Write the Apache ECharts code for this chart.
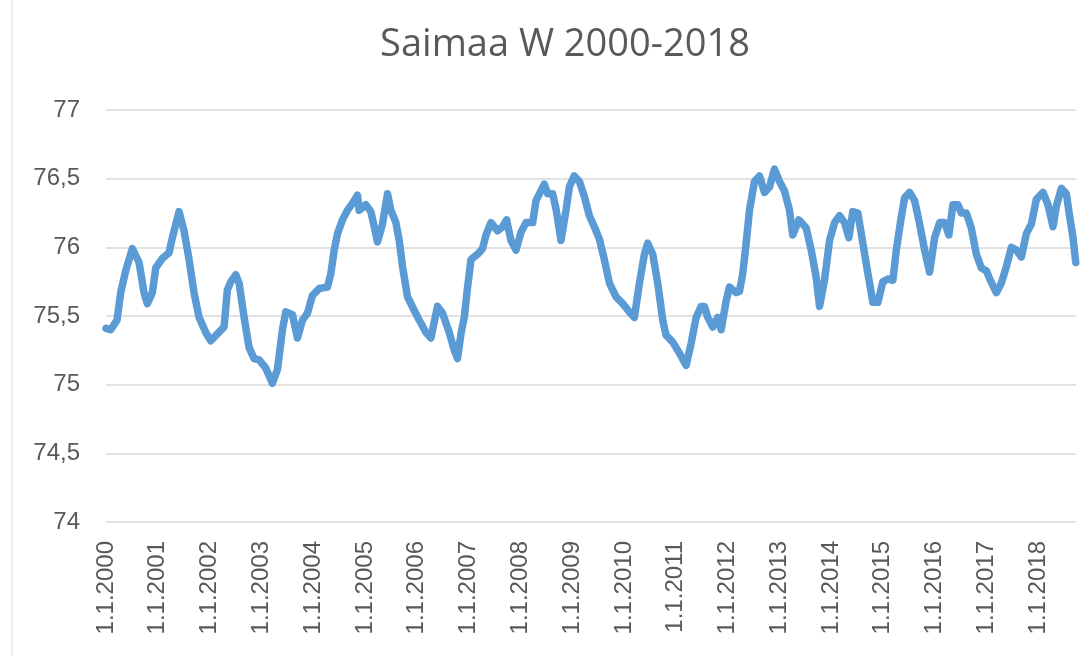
<!DOCTYPE html>
<html>
<head>
<meta charset="utf-8">
<script src="https://cdn.jsdelivr.net/npm/echarts@6/dist/echarts.min.js"></script>
<style>
html,body{margin:0;padding:0;background:#fff;}
#chart{width:1083px;height:656px;}
</style>
</head>
<body>
<div id="chart"></div>
<script>
// ajankohta (vuotta 2000 jälkeen) ja vedenkorkeus, luettu kuvasta
var t = [
0.000,0.091,0.213,0.284,0.381,0.508,0.638,0.734,0.798,0.895,0.960,1.088,1.217,1.281,1.411,1.507,1.604,1.700,1.797,1.927,
2.023,2.151,2.280,2.344,2.410,2.506,2.570,2.667,2.763,2.860,2.957,3.086,3.213,3.310,3.407,3.472,3.600,3.697,3.793,3.890,
3.986,4.116,4.276,4.342,4.406,4.470,4.566,4.663,4.759,4.856,4.889,5.018,5.115,5.179,5.243,5.339,5.436,5.501,5.598,5.662,
5.726,5.822,5.952,6.048,6.178,6.274,6.402,6.499,6.628,6.725,6.788,6.854,6.918,6.982,7.047,7.175,7.271,7.337,7.434,7.561,
7.658,7.735,7.820,7.917,8.013,8.110,8.238,8.303,8.464,8.528,8.624,8.690,8.786,8.883,8.947,9.043,9.140,9.237,9.333,9.430,
9.527,9.623,9.720,9.849,9.977,10.106,10.203,10.300,10.396,10.460,10.557,10.653,10.750,10.815,10.943,11.072,11.202,11.298,11.395,11.492,
11.556,11.619,11.716,11.812,11.878,11.975,12.039,12.168,12.232,12.296,12.361,12.425,12.522,12.618,12.715,12.812,12.908,13.005,13.101,13.198,
13.262,13.378,13.521,13.617,13.714,13.778,13.874,13.971,14.068,14.164,14.261,14.344,14.421,14.518,14.614,14.711,14.808,14.904,15.001,15.097,
15.194,15.260,15.356,15.420,15.517,15.614,15.710,15.807,15.903,16.000,16.097,16.193,16.276,16.353,16.450,16.516,16.612,16.709,16.806,16.902,
16.999,17.063,17.192,17.289,17.386,17.482,17.579,17.675,17.772,17.868,17.965,18.093,18.189,18.286,18.351,18.448,18.544,18.609,18.673,18.725
];
var level = [
75.41,75.40,75.47,75.67,75.83,75.99,75.89,75.67,75.59,75.67,75.85,75.92,75.96,76.07,76.26,76.12,75.91,75.67,75.49,75.38,
75.32,75.37,75.42,75.69,75.75,75.80,75.74,75.49,75.27,75.19,75.18,75.12,75.01,75.11,75.40,75.53,75.51,75.34,75.47,75.52,
75.65,75.70,75.71,75.81,75.98,76.10,76.20,76.27,76.32,76.38,76.27,76.31,76.26,76.15,76.04,76.17,76.39,76.27,76.18,76.05,
75.86,75.64,75.54,75.47,75.38,75.34,75.57,75.52,75.38,75.25,75.19,75.37,75.49,75.71,75.91,75.95,75.99,76.09,76.18,76.12,
76.15,76.20,76.05,75.98,76.11,76.18,76.18,76.34,76.46,76.39,76.39,76.28,76.05,76.27,76.44,76.52,76.48,76.37,76.23,76.15,
76.06,75.91,75.74,75.64,75.59,75.53,75.49,75.74,75.95,76.03,75.95,75.74,75.47,75.36,75.31,75.23,75.14,75.30,75.49,75.57,
75.57,75.49,75.42,75.49,75.40,75.61,75.71,75.67,75.68,75.81,76.03,76.27,76.48,76.52,76.40,76.44,76.57,76.48,76.41,76.27,
76.09,76.20,76.14,75.98,75.78,75.57,75.76,76.05,76.18,76.23,76.18,76.07,76.26,76.25,76.03,75.81,75.60,75.60,75.75,75.77,
75.76,75.98,76.22,76.36,76.40,76.34,76.17,75.98,75.82,76.07,76.18,76.18,76.09,76.31,76.31,76.25,76.25,76.14,75.95,75.85,
75.83,75.77,75.67,75.74,75.86,76.00,75.98,75.93,76.10,76.17,76.35,76.40,76.31,76.15,76.30,76.43,76.39,76.22,76.07,75.89
];
var startYear = 2000;
var endYear = 2018.73;

var myChart = echarts.init(document.getElementById('chart'));
var option = {
    animation: false,
    title: {
        text: 'Saimaa W 2000-2018',
        left: 560,
        textAlign: 'center',
        top: 21,
        textStyle: {
            fontFamily: 'Open Sans',
            fontSize: 38,
            fontWeight: 'normal',
            color: '#595959'
        }
    },
    graphic: [
        {
            type: 'line',
            shape: {x1: 12, y1: 0, x2: 12, y2: 656},
            style: {stroke: '#d9d9d9', lineWidth: 1}
        }
    ],
    grid: {
        left: 106,
        right: 7,
        top: 110,
        bottom: 134
    },
    xAxis: {
        type: 'value',
        min: startYear,
        max: endYear,
        interval: 1,
        axisLine: {show: false},
        axisTick: {show: false},
        splitLine: {show: false},
        axisLabel: {
            rotate: 90,
            margin: 19,
            showMaxLabel: false,
            fontFamily: 'Liberation Sans',
            fontSize: 24,
            color: '#595959',
            formatter: function (v) {
                return '1.1.' + v;
            }
        }
    },
    yAxis: {
        type: 'value',
        min: 74,
        max: 77,
        interval: 0.5,
        axisLine: {show: false},
        axisTick: {show: false},
        splitLine: {
            lineStyle: {color: '#d9d9d9', width: 1.5}
        },
        axisLabel: {
            margin: 26,
            fontFamily: 'Liberation Sans',
            fontSize: 24,
            color: '#595959',
            formatter: function (v) {
                return String(v).replace('.', ',');
            }
        }
    },
    series: [
        {
            type: 'line',
            showSymbol: false,
            data: t.map(function (d, i) { return [startYear + d, level[i]]; }),
            lineStyle: {
                color: '#5b9bd5',
                width: 7.5,
                cap: 'round',
                join: 'round'
            }
        }
    ]
};
myChart.setOption(option);
</script>
</body>
</html>
